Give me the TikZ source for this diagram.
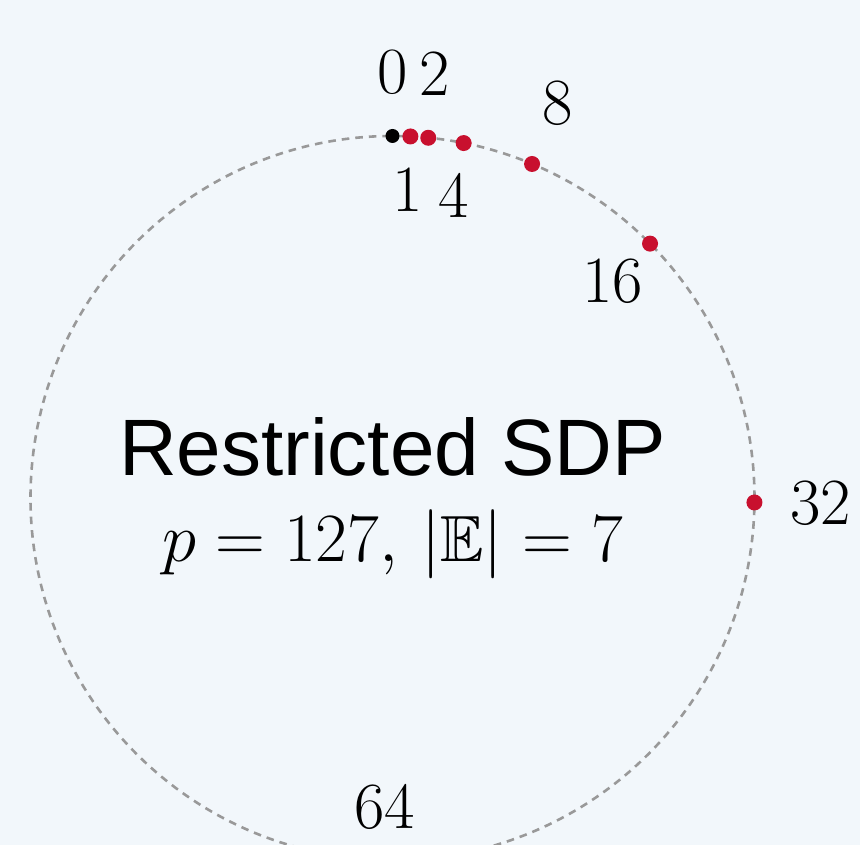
\documentclass[tikz,border=0pt]{standalone}
\usepackage{amssymb}
\usepackage{fontspec}
\newfontfamily\sansfont{Liberation Sans}
\definecolor{bgcol}{HTML}{F2F7FB}
\definecolor{dotred}{HTML}{C8102E}
\definecolor{ringgray}{HTML}{999999}
\tikzset{
  dotnode/.style={circle,fill=dotred,inner sep=0pt,minimum size=4pt},
  zeronode/.style={circle,fill=black,inner sep=0pt,minimum size=3.5pt},
  lab/.style={inner sep=0pt,font=\fontsize{16.5}{19}\selectfont},
  ring/.style={draw=ringgray,line width=0.65pt,dash pattern=on 1.9pt off 1.5pt},
}
\begin{document}
\begin{tikzpicture}[x=0.25pt,y=0.25pt]
\fill[bgcol] (0,0) rectangle (860,845);
\useasboundingbox (0,0) rectangle (860,845);
\begin{scope}[shift={(392.5,347)}]
  \node[circle,minimum size=181pt,inner sep=0pt,ring] (C) at (0,0) {};
  \node[zeronode] (p0) at (90:362) {};
  \foreach \k in {1,2,4,8,16,32,64}{
    \node[dotnode] (p\k) at ({90-\k*2.8346457}:362) {};
  }
  \node[lab] (l0) at (90:426) {0};
  \node[lab] (l1) at ({90-1*2.8346457}:309) {1};
  \node[lab] (l2) at ({90-2*2.8346457}:426) {2};
  \node[lab] (l4) at ({90-4*2.8346457}:309) {4};
  \node[lab] (l8) at ({90-8*2.8346457}:428) {8};
  \node[lab] (l16) at ({90-16*2.8346457}:309) {16};
  \node[lab] (l32) at ({90-32*2.8346457}:428) {32};
  \node[lab] (l64) at ({90-64*2.8346457}:309) {64};
  \node[anchor=base,inner sep=0pt,font=\sansfont\fontsize{20}{24}\selectfont] (title) at (0,22) {Restricted SDP};
  \node[anchor=base,inner sep=0pt,font=\fontsize{16.3}{20}\selectfont] (sub) at (0,-64) {$p = 127,\, |\mathbb{E}| = 7$};
\end{scope}
\end{tikzpicture}
\end{document}
